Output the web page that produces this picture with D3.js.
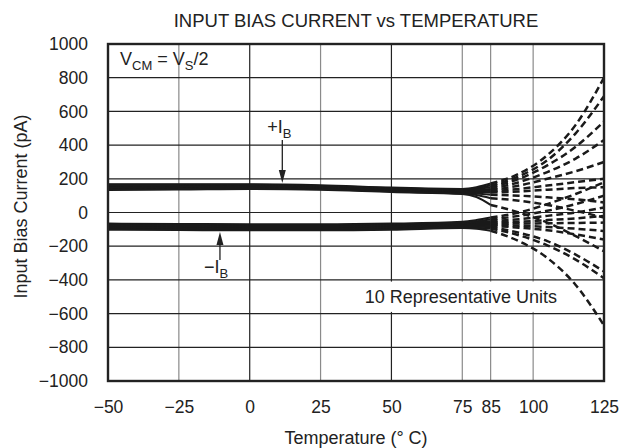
<!DOCTYPE html>
<html>
<head>
<meta charset="utf-8">
<script src="https://cdn.jsdelivr.net/npm/d3@7"></script>
<style>
    body { margin: 0; background: #fff; }
    text { font-family: "Liberation Sans", Arial, sans-serif; fill: #222; }
</style>
</head>
<body>
<svg id="chart" width="621" height="448"></svg>
<script>

// temperatures for the solid (measured) part and the dashed (extrapolated) part
var solid_temps = [-50, -25, 0, 25, 50, 75, 80, 85];
var dash_temps = [85, 95, 105, 115, 125];

// +IB, 10 units (pA)
var pos_solid = [
    [168, 168, 168, 162, 148, 140, 150, 172],
    [165, 165, 165, 158, 145, 136, 145, 160],
    [162, 162, 163, 156, 142, 132, 140, 150],
    [158, 158, 160, 153, 139, 128, 135, 140],
    [155, 155, 157, 150, 136, 125, 130, 132],
    [150, 152, 154, 147, 133, 122, 124, 125],
    [146, 148, 150, 144, 130, 119, 120, 118],
    [142, 144, 146, 141, 127, 116, 113, 105],
    [138, 140, 143, 138, 124, 113, 104, 85],
    [134, 136, 140, 135, 121, 110, 92, 45]
];
var pos_dash = [
    [172, 230, 340, 520, 800],
    [160, 215, 310, 470, 690],
    [150, 200, 280, 390, 540],
    [140, 180, 240, 320, 430],
    [132, 160, 200, 245, 300],
    [125, 140, 160, 180, 200],
    [118, 125, 135, 145, 150],
    [105, 100, 90, 78, 60],
    [85, 70, 45, 10, -30],
    [45, 0, -60, -140, -230]
];

// -IB, 10 units (pA)
var neg_solid = [
    [-66, -68, -70, -70, -66, -55, -45, -30],
    [-70, -72, -74, -74, -70, -60, -52, -42],
    [-74, -76, -78, -78, -74, -64, -58, -52],
    [-78, -80, -82, -82, -78, -68, -63, -60],
    [-82, -84, -86, -86, -82, -72, -68, -66],
    [-86, -88, -90, -90, -86, -76, -73, -72],
    [-90, -92, -94, -94, -90, -80, -78, -78],
    [-94, -96, -98, -98, -94, -84, -84, -86],
    [-98, -100, -102, -102, -98, -88, -90, -95],
    [-102, -104, -106, -106, -102, -92, -96, -108]
];
var neg_dash = [
    [-30, 0, 50, 110, 180],
    [-42, -20, 10, 50, 100],
    [-52, -40, -20, 0, 30],
    [-60, -55, -45, -35, -20],
    [-66, -66, -64, -62, -60],
    [-72, -78, -86, -96, -110],
    [-78, -90, -105, -130, -160],
    [-86, -120, -170, -250, -350],
    [-95, -135, -195, -280, -390],
    [-108, -170, -270, -430, -670]
];

var x_ticks = [-50, -25, 0, 25, 50, 75, 85, 100, 125];
var x_dark = [0, 50];
var y_ticks = [-1000, -800, -600, -400, -200, 0, 200, 400, 600, 800, 1000];

var margin = { left: 108, right: 17, top: 44, bottom: 67 };
var W = 621, H = 448;
var svg = d3.select("#chart");

var x = d3.scaleLinear().domain([-50, 125])
          .range([margin.left, W - margin.right]);
var y = d3.scaleLinear().domain([-1000, 1000])
          .range([H - margin.bottom, margin.top]);

var fmt = function(d) { return d < 0 ? "\u2212" + Math.abs(d) : "" + d; };

//
// grid
//
svg.append("g").selectAll("line").data(x_ticks).join("line")
    .attr("x1", d => x(d)).attr("x2", d => x(d))
    .attr("y1", y(-1000)).attr("y2", y(1000))
    .attr("stroke", d => x_dark.indexOf(d) >= 0 ? "#222" : "#8a8a8a")
    .attr("stroke-width", 1.2);
svg.append("g").selectAll("line").data(y_ticks).join("line")
    .attr("x1", x(-50)).attr("x2", x(125))
    .attr("y1", d => y(d)).attr("y2", d => y(d))
    .attr("stroke", "#222").attr("stroke-width", 1.2);

//
// white box behind the units note (breaks the grid)
//
svg.append("rect")
    .attr("x", x(38)).attr("y", y(-410))
    .attr("width", x(112.5) - x(38)).attr("height", y(-590) - y(-410))
    .attr("fill", "#fff");

//
// curves
//
var line = d3.line().curve(d3.curveMonotoneX)
    .x(d => x(d[0])).y(d => y(d[1]));

function draw_set(solid, dash) {
    solid.forEach(function(vals) {
        svg.append("path")
            .attr("d", line(vals.map((v, i) => [solid_temps[i], v])))
            .attr("fill", "none").attr("stroke", "#1a1a1a")
            .attr("stroke-width", 2.0);
    });
    dash.forEach(function(vals) {
        svg.append("path")
            .attr("d", line(vals.map((v, i) => [dash_temps[i], v])))
            .attr("fill", "none").attr("stroke", "#1a1a1a")
            .attr("stroke-width", 2.5)
            .attr("stroke-dasharray", "7,4");
    });
}
draw_set(pos_solid, pos_dash);
draw_set(neg_solid, neg_dash);

//
// frame
//
svg.append("rect")
    .attr("x", x(-50)).attr("y", y(1000))
    .attr("width", x(125) - x(-50)).attr("height", y(-1000) - y(1000))
    .attr("fill", "none").attr("stroke", "#222").attr("stroke-width", 2.4);

//
// axes
//
var xAxis = d3.axisBottom(x).tickValues(x_ticks).tickSize(0).tickFormat(fmt);
var gx = svg.append("g").attr("transform", "translate(0," + (y(-1000) + 17) + ")")
            .call(xAxis);
gx.select(".domain").remove();
gx.selectAll("text").attr("font-size", 17.5).attr("fill", "#222")
    .attr("font-family", "Liberation Sans, Arial, sans-serif");

var yAxis = d3.axisLeft(y).tickValues(y_ticks).tickSize(0).tickFormat(fmt);
var gy = svg.append("g").attr("transform", "translate(" + (x(-50) - 17) + ",0)")
            .call(yAxis);
gy.select(".domain").remove();
gy.selectAll("text").attr("font-size", 17.5).attr("fill", "#222")
    .attr("font-family", "Liberation Sans, Arial, sans-serif");

//
// titles
//
svg.append("text").attr("x", (x(-50) + x(125)) / 2).attr("y", 27)
    .attr("text-anchor", "middle").attr("font-size", 18.5)
    .text("INPUT BIAS CURRENT vs TEMPERATURE");
svg.append("text").attr("x", (x(-50) + x(125)) / 2).attr("y", 444)
    .attr("text-anchor", "middle").attr("font-size", 18)
    .text("Temperature (\u00b0 C)");
svg.append("text")
    .attr("transform", "translate(27," + (y(0) - 6) + ") rotate(-90)")
    .attr("text-anchor", "middle").attr("font-size", 18)
    .text("Input Bias Current (pA)");

//
// annotations
//
var vcm = svg.append("text").attr("x", x(-50) + 12).attr("y", 65)
    .attr("font-size", 18);
vcm.append("tspan").text("V");
vcm.append("tspan").attr("dy", 5).attr("font-size", 13).text("CM");
vcm.append("tspan").attr("dy", -5).text(" = V");
vcm.append("tspan").attr("dy", 5).attr("font-size", 13).text("S");
vcm.append("tspan").attr("dy", -5).text("/2");

// arrow from a tail value to a tip value at temperature tx
function arrow(tx, tail, tip) {
    var px = x(tx), p_tail = y(tail), p_tip = y(tip);
    var dir = p_tip > p_tail ? 1 : -1;
    var base = p_tip - dir * 13;
    svg.append("line")
        .attr("x1", px).attr("x2", px)
        .attr("y1", p_tail).attr("y2", base)
        .attr("stroke", "#222").attr("stroke-width", 1.3);
    svg.append("path")
        .attr("d", "M" + (px - 3.5) + "," + base + "L" + (px + 3.5) + "," + base +
              "L" + px + "," + p_tip + "Z")
        .attr("fill", "#222");
}
arrow(11.5, 430, 175);
arrow(-10.5, -282, -116);

var pib = svg.append("text").attr("x", x(11.5) - 15).attr("y", y(470))
    .attr("font-size", 18);
pib.append("tspan").text("+I");
pib.append("tspan").attr("dy", 5).attr("font-size", 13).text("B");

var nib = svg.append("text").attr("x", x(-10.5) - 16).attr("y", y(-358))
    .attr("font-size", 18);
nib.append("tspan").text("\u2212I");
nib.append("tspan").attr("dy", 5).attr("font-size", 13).text("B");

svg.append("text").attr("x", x(74.5)).attr("y", y(-540))
    .attr("text-anchor", "middle").attr("font-size", 18)
    .text("10 Representative Units");

</script>
</body>
</html>
